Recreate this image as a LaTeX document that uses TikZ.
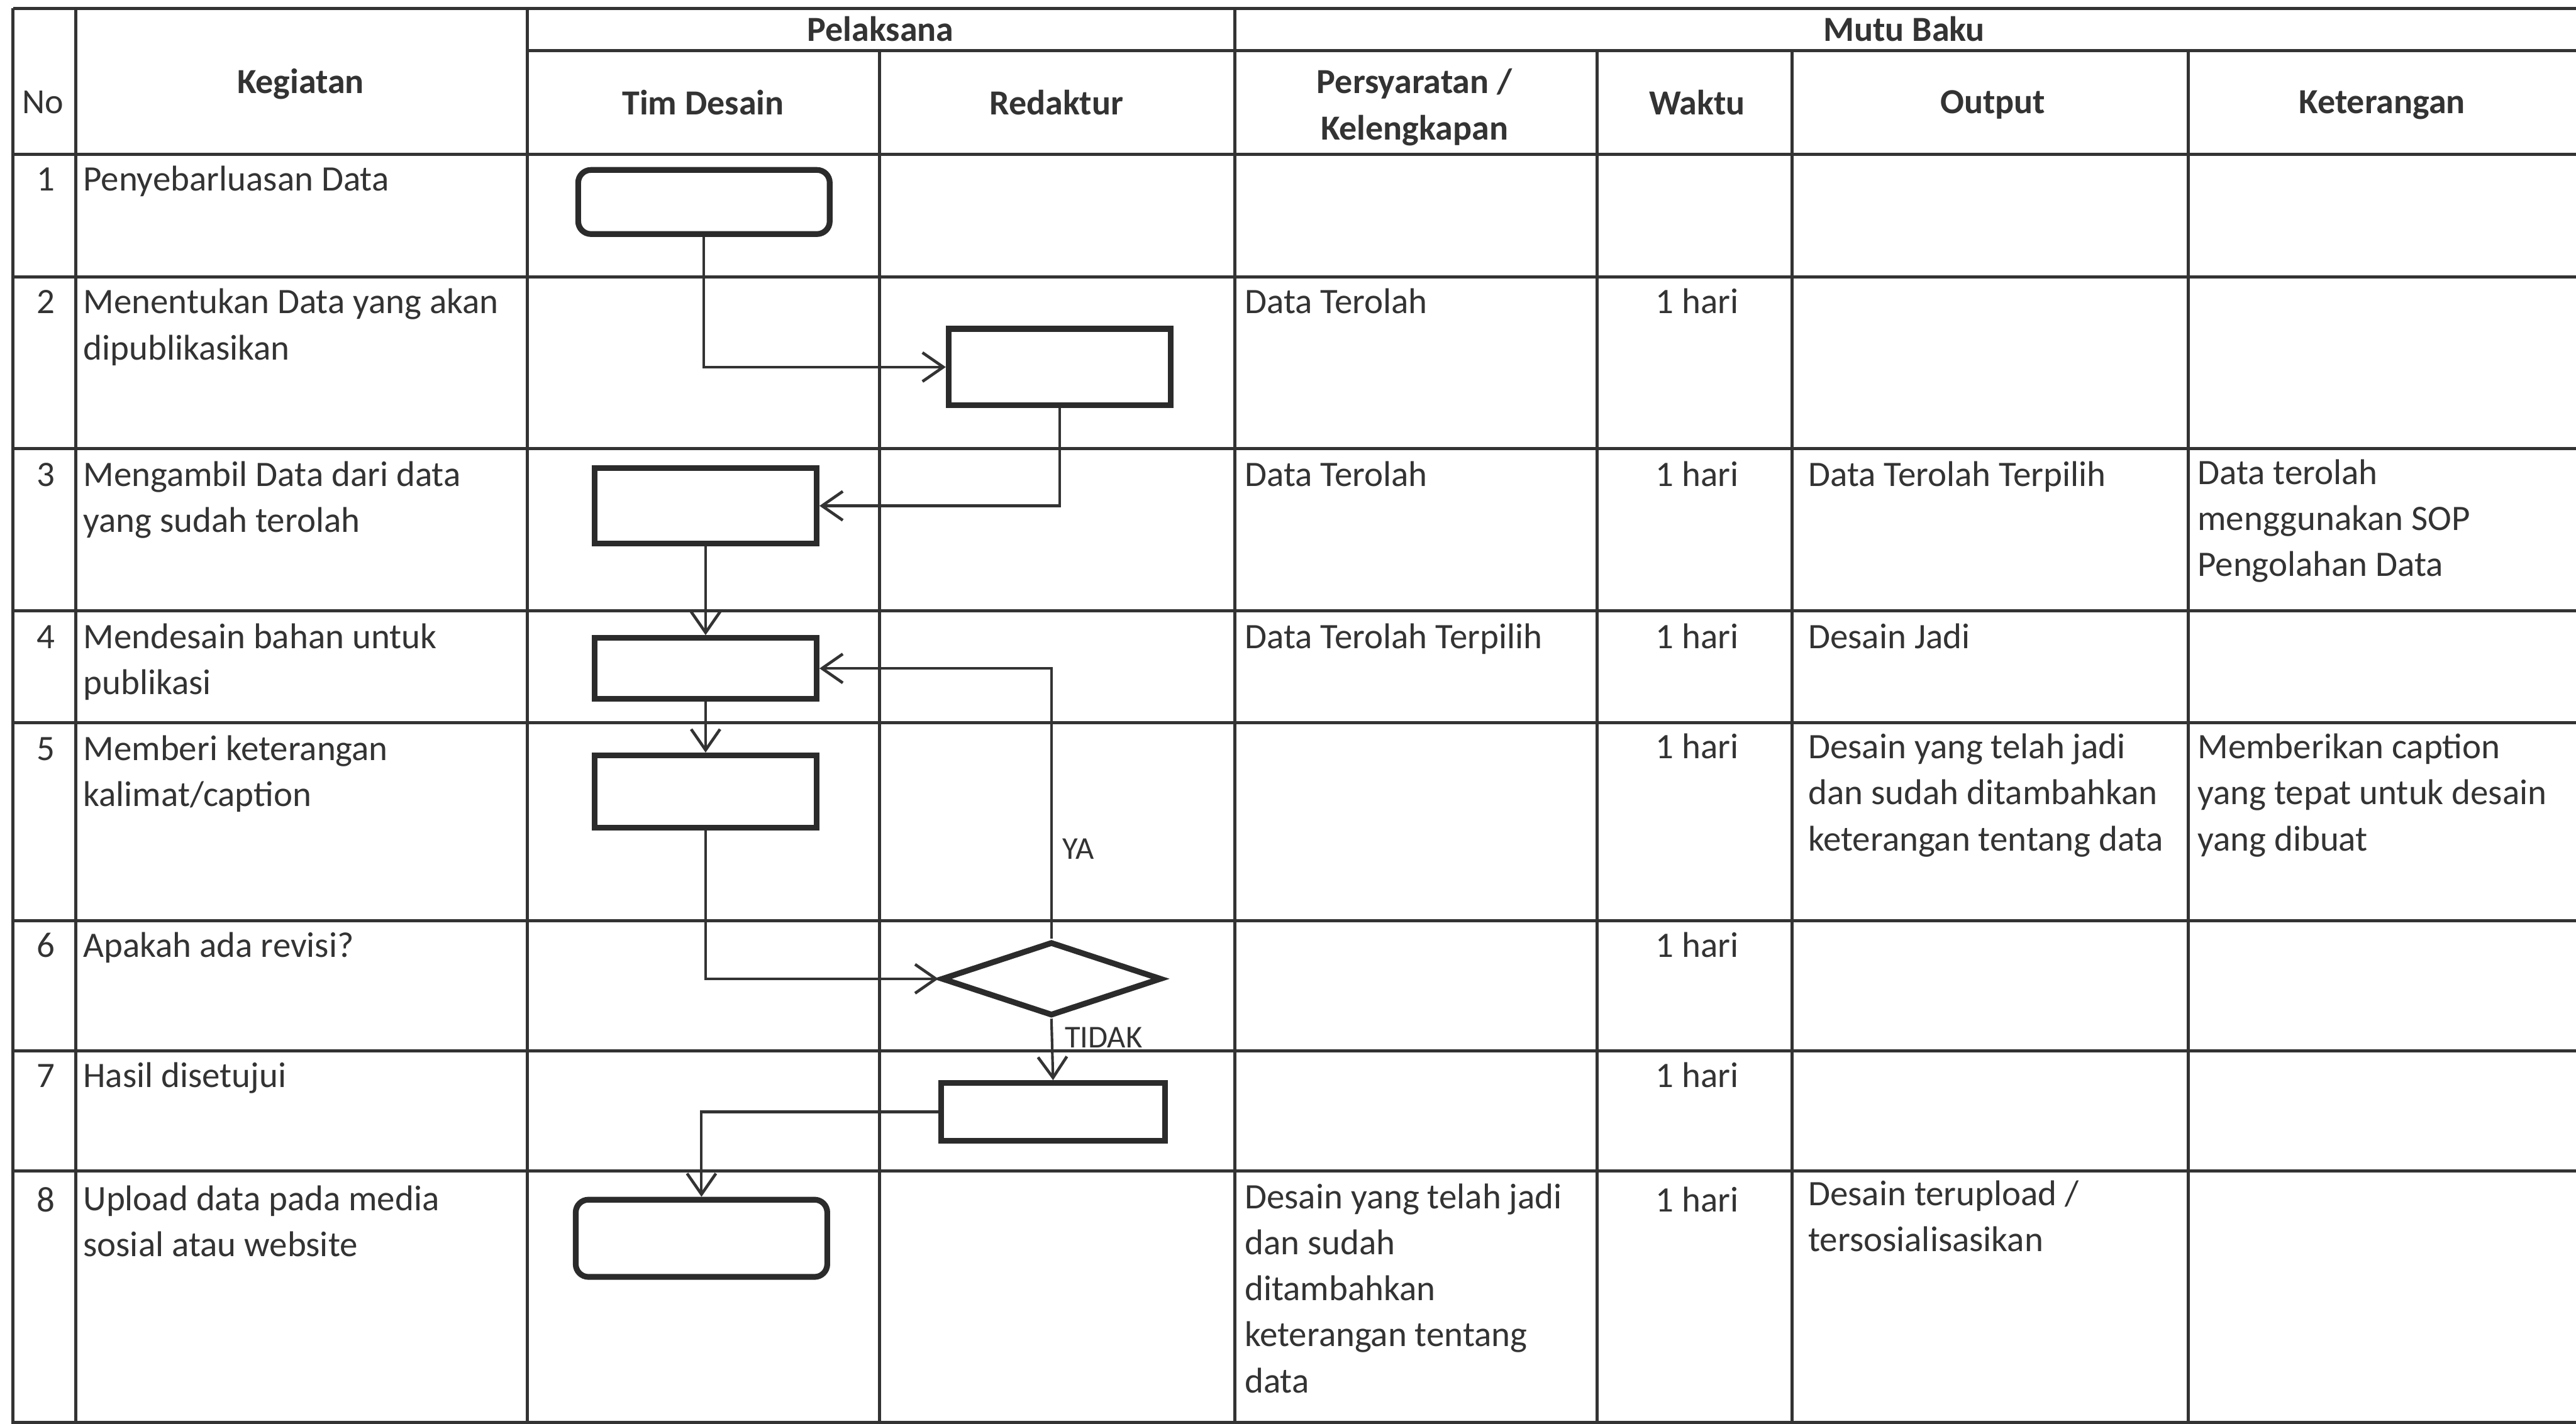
\documentclass[tikz,border=0pt]{standalone}
\usepackage{fontspec}
\setmainfont{Carlito}
\usetikzlibrary{arrows.meta,shapes.geometric}
\definecolor{inkc}{HTML}{333333}
\definecolor{boxc}{HTML}{2B2B2B}
\tikzset{
  x=0.01cm,y=-0.01cm,
  grid/.style={draw=inkc,line width=0.55pt},
  flow/.style={draw=inkc,line width=0.45pt,-{Straight Barb[length=3.6pt,width=5pt,line width=0.5pt]}},
  flowbox/.style={draw=boxc,line width=1pt,inner sep=0pt,fill=white},
  term/.style={flowbox,rounded corners=2.2pt},
  txt/.style={anchor=base west,inner sep=0pt,yshift=-0.01cm,font=\fontsize{6.2pt}{7.97pt}\selectfont,text=inkc,align=left},
  ctr/.style={anchor=base,inner sep=0pt,yshift=-0.01cm,font=\fontsize{6.2pt}{7.97pt}\selectfont,text=inkc,align=center},
  hdr/.style={anchor=base,inner sep=0pt,yshift=-0.01cm,font=\fontsize{6.1pt}{7.97pt}\selectfont\bfseries,text=inkc,align=center},
  lab/.style={anchor=base west,inner sep=0pt,font=\fontsize{5.5pt}{6pt}\selectfont,text=inkc},
}
\begin{document}
\begin{tikzpicture}
\useasboundingbox[fill=white] (0,0) rectangle (1568,867);
% grid
\draw[grid] (8,5)--(1568,5);
\draw[grid] (321,31)--(1568,31);
\foreach \y in {94,168.5,273,372,440,560.5,640,713,866} \draw[grid] (8,\y)--(1568,\y);
\foreach \x in {8,46,321,751.5} \draw[grid] (\x,5)--(\x,867);
\foreach \x in {535.5,972,1091,1332} \draw[grid] (\x,31)--(\x,867);
% headers
\node[hdr] (hNo) at (26,68) {\mdseries No};
\node[hdr] (hKeg) at (183,56) {Kegiatan};
\node[hdr] (hPel) at (536,24) {Pelaksana};
\node[hdr] (hMut) at (1159,24) {Mutu Baku};
\node[hdr] (hTim) at (428,69) {Tim Desain};
\node[hdr] (hRed) at (643,69) {Redaktur};
\node[hdr] (hPer) at (861,84) {Persyaratan /\\Kelengkapan};
\node[hdr] (hWak) at (1033,69) {Waktu};
\node[hdr] (hOut) at (1213,68) {Output};
\node[hdr] (hKet) at (1450,68) {Keterangan};
% numbers
\node[ctr] (n1) at (28,115) {1};
\node[ctr] (n2) at (28,190) {2};
\node[ctr] (n3) at (28,295) {3};
\node[ctr] (n4) at (28,394) {4};
\node[ctr] (n5) at (28,462) {5};
\node[ctr] (n6) at (28,582) {6};
\node[ctr] (n7) at (28,661) {7};
\node[ctr] (n8) at (28,737) {8};
% activities (y = baseline of the last line)
\node[txt] (k1) at (50,115) {Penyebarluasan Data};
\node[txt] (k2) at (50,218) {Menentukan Data yang akan\\dipublikasikan};
\node[txt] (k3) at (50,323) {Mengambil Data dari data\\yang sudah terolah};
\node[txt] (k4) at (50,422) {Mendesain bahan untuk\\publikasi};
\node[txt] (k5) at (50,490) {Memberi keterangan\\kalimat/caption};
\node[txt] (k6) at (50,582) {Apakah ada revisi?};
\node[txt] (k7) at (50,661) {Hasil disetujui};
\node[txt] (k8) at (50,764) {Upload data pada media\\sosial atau website};
% persyaratan
\node[txt] (p2) at (757,190) {Data Terolah};
\node[txt] (p3) at (757,295) {Data Terolah};
\node[txt] (p4) at (757,394) {Data Terolah Terpilih};
\node[txt] (p8) at (757,847) {Desain yang telah jadi\\dan sudah\\ditambahkan\\keterangan tentang\\data};
% waktu
\node[ctr] (w2) at (1033,190) {1 hari};
\node[ctr] (w3) at (1033,295) {1 hari};
\node[ctr] (w4) at (1033,394) {1 hari};
\node[ctr] (w5) at (1033,461) {1 hari};
\node[ctr] (w6) at (1033,582) {1 hari};
\node[ctr] (w7) at (1033,661) {1 hari};
\node[ctr] (w8) at (1033,737) {1 hari};
% output
\node[txt] (o3) at (1100,295) {Data Terolah Terpilih};
\node[txt] (o4) at (1100,394) {Desain Jadi};
\node[txt] (o5) at (1100,517) {Desain yang telah jadi\\dan sudah ditambahkan\\keterangan tentang data};
\node[txt] (o8) at (1100,761) {Desain terupload /\\tersosialisasikan};
% keterangan
\node[txt] (c3) at (1337,350) {Data terolah\\menggunakan SOP\\Pengolahan Data};
\node[txt] (c5) at (1337,517) {Memberikan caption\\yang tepat untuk desain\\yang dibuat};
% flow shapes
\node[term,minimum width=1.53cm,minimum height=0.39cm] (s1) at (428.5,123) {};
\node[flowbox,minimum width=1.35cm,minimum height=0.465cm] (s2) at (645,223.5) {};
\node[flowbox,minimum width=1.35cm,minimum height=0.46cm] (s3) at (429.5,308) {};
\node[flowbox,minimum width=1.35cm,minimum height=0.37cm] (s4) at (429.5,407) {};
\node[flowbox,minimum width=1.35cm,minimum height=0.44cm] (s5) at (429.5,482) {};
\node[diamond,aspect=2.9,draw=boxc,line width=1pt,inner sep=0pt,fill=white,minimum width=1.34cm,minimum height=0.45cm] (d6) at (640,596) {};
\node[flowbox,minimum width=1.36cm,minimum height=0.35cm] (s7) at (641,677) {};
\node[term,minimum width=1.53cm,minimum height=0.47cm] (s8) at (427,754) {};
% connectors
\draw[flow] (s1.south) |- (s2.west);
\draw[flow] (s2.south) |- (s3.east);
\draw[flow] (s3.south) -- (s4.north);
\draw[flow] (s4.south) -- (s5.north);
\draw[flow] (s5.south) |- (d6.west);
\draw[flow] (d6.north) |- (s4.east);
\draw[flow] (d6.south) -- (s7.north);
\draw[flow] (s7.west) -| (s8.north);
\node[lab] (lya) at (646,523) {YA};
\node[lab] (ltd) at (647.5,638) {TIDAK};
\end{tikzpicture}
\end{document}
